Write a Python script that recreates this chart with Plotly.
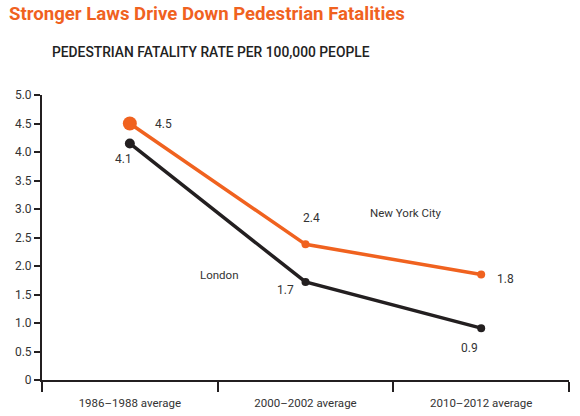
import plotly.graph_objects as go

categories = ["1986–1988 average", "2000–2002 average", "2010–2012 average"]
nyc_values = [4.5, 2.38, 1.85]
nyc_labels = ["4.5", "2.4", "1.8"]
london_values = [4.15, 1.72, 0.91]
london_labels = ["4.1", "1.7", "0.9"]
y_ticks = [0, 0.5, 1.0, 1.5, 2.0, 2.5, 3.0, 3.5, 4.0, 4.5, 5.0]
y_ticktext = ["0", "0.5", "1.0", "1.5", "2.0", "2.5", "3.0", "3.5", "4.0", "4.5", "5.0"]

ORANGE = "#F0621F"
BLACK = "#231F20"
TEXT = "#333333"
FONT = "Roboto"

x_idx = list(range(len(categories)))

fig = go.Figure()
fig.add_trace(go.Scatter(
    x=x_idx, y=london_values, mode="lines+markers",
    line=dict(color=BLACK, width=3.5),
    marker=dict(color=BLACK, size=[10, 8, 8], opacity=1, line=dict(width=0)),
    hoverinfo="skip", showlegend=False, cliponaxis=False))
fig.add_trace(go.Scatter(
    x=x_idx, y=nyc_values, mode="lines+markers",
    line=dict(color=ORANGE, width=3.5),
    marker=dict(color=ORANGE, size=[14, 8, 8], opacity=1, line=dict(width=0)),
    hoverinfo="skip", showlegend=False, cliponaxis=False))

annotations = []
nyc_shift = [(34, 0), (6, 26), (24, -4)]
lon_shift = [(-6, -16), (-20, -8), (-12, -20)]
for i in x_idx:
    annotations.append(dict(x=i, y=nyc_values[i], xref="x", yref="y", text=nyc_labels[i],
                            showarrow=False, xshift=nyc_shift[i][0], yshift=nyc_shift[i][1],
                            font=dict(family=FONT, size=12, color=TEXT)))
    annotations.append(dict(x=i, y=london_values[i], xref="x", yref="y", text=london_labels[i],
                            showarrow=False, xshift=lon_shift[i][0], yshift=lon_shift[i][1],
                            font=dict(family=FONT, size=12, color=TEXT)))

annotations.append(dict(x=1.57, y=2.93, xref="x", yref="y", text="New York City", showarrow=False,
                        font=dict(family=FONT, size=11.5, color=TEXT)))
annotations.append(dict(x=0.51, y=1.84, xref="x", yref="y", text="London", showarrow=False,
                        font=dict(family=FONT, size=11.5, color=TEXT)))

annotations.append(dict(x=-35 / 527, y=(380 - 14) / 285, xref="paper", yref="paper",
                        xanchor="left", yanchor="middle", showarrow=False,
                        text="<b>Stronger Laws Drive Down Pedestrian Fatalities</b>",
                        font=dict(family=FONT, size=18.6, color=ORANGE)))
annotations.append(dict(x=8 / 527, y=(380 - 52) / 285, xref="paper", yref="paper",
                        xanchor="left", yanchor="middle", showarrow=False,
                        text="PEDESTRIAN FATALITY RATE PER 100,000 PEOPLE",
                        font=dict(family=FONT, size=13.8, color="#222222", weight=500)))

fig.update_layout(
    width=580, height=416,
    margin=dict(l=42, r=11, t=95, b=36, autoexpand=False),
    paper_bgcolor="white", plot_bgcolor="white",
    annotations=annotations,
    xaxis=dict(range=[-0.5, 2.5], tickvals=[-0.5, 0.5, 1.5, 2.5], ticktext=["", "", "", ""],
               showgrid=False, zeroline=False, showline=True, linecolor=BLACK, linewidth=2,
               ticks="outside", ticklen=10, tickwidth=2, tickcolor=BLACK, fixedrange=True,
               automargin=False),
    xaxis2=dict(overlaying="x", matches="x", range=[-0.5, 2.5], tickvals=x_idx, ticktext=categories,
                side="bottom", anchor="y", showgrid=False, zeroline=False, showline=False,
                ticks="", ticklabelstandoff=14, automargin=False,
                tickfont=dict(family=FONT, size=11.5, color=TEXT)),
    yaxis=dict(range=[0, 5], tickvals=y_ticks, ticktext=y_ticktext,
               showgrid=False, zeroline=False, showline=True, linecolor=BLACK, linewidth=2,
               ticks="outside", ticklen=6, tickwidth=2, tickcolor=BLACK, automargin=False,
               tickfont=dict(family=FONT, size=12, color=TEXT), fixedrange=True),
)
fig.add_trace(go.Scatter(x=[0], y=[None], xaxis="x2", showlegend=False, hoverinfo="skip"))

fig.write_html("out.html", config={"displayModeBar": False},
               post_script="document.body.style.margin='0';")
